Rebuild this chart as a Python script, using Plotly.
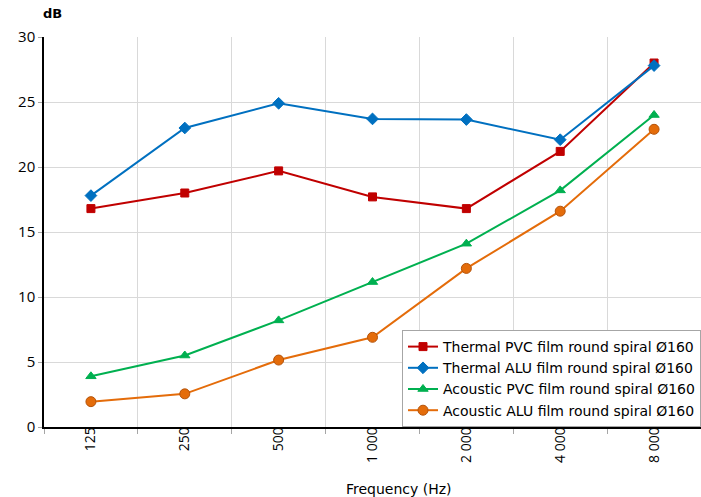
import plotly.graph_objects as go

# Octave-band centre frequencies (Hz) and insertion loss (dB) per duct type
frequencies = ["125", "250", "500", "1 000", "2 000", "4 000", "8 000"]
thermal_pvc = [16.8, 18.0, 19.7, 17.7, 16.8, 21.2, 28.0]
thermal_alu = [17.8, 23.0, 24.9, 23.7, 23.65, 22.1, 27.8]
acoustic_pvc = [3.9, 5.5, 8.2, 11.15, 14.1, 18.2, 24.0]
acoustic_alu = [1.95, 2.55, 5.15, 6.9, 12.2, 16.6, 22.9]

series_names = [
    "Thermal PVC film round spiral Ø160",
    "Thermal ALU film round spiral Ø160",
    "Acoustic PVC film round spiral Ø160",
    "Acoustic ALU film round spiral Ø160",
]
y_ticks = [0, 5, 10, 15, 20, 25, 30]

styles = [
    dict(color="#C00000", symbol="square", size=8, outline="#C00000"),
    dict(color="#0070C0", symbol="diamond", size=9, outline="#0070C0"),
    dict(color="#00B050", symbol="triangle-up", size=9, outline="#00B050"),
    dict(color="#E46C0A", symbol="circle", size=10, outline="#B4530A"),
]

fig = go.Figure()
for name, values, st in zip(series_names,
                            [thermal_pvc, thermal_alu, acoustic_pvc, acoustic_alu],
                            styles):
    fig.add_trace(go.Scatter(
        x=frequencies, y=values, name=name, mode="lines+markers",
        line=dict(color=st["color"], width=2),
        marker=dict(symbol=st["symbol"], size=st["size"], color=st["color"],
                    line=dict(color=st["outline"], width=1)),
    ))

fig.update_layout(
    width=701, height=497,
    margin=dict(l=44, r=0, t=37, b=70, autoexpand=False),
    paper_bgcolor="white", plot_bgcolor="white",
    font=dict(family="DejaVu Sans", size=13, color="#000000"),
    showlegend=True,
    legend=dict(
        x=1.0, xanchor="right", y=0.0, yanchor="bottom",
        bgcolor="white", bordercolor="#A6A6A6", borderwidth=1,
        font=dict(family="DejaVu Sans", size=14, color="#000000"),
        itemwidth=30,
    ),
    xaxis=dict(
        type="category", range=[-0.5, 6.5], tickson="boundaries",
        showgrid=True, gridcolor="#D9D9D9", gridwidth=1,
        showline=True, linecolor="#000000", linewidth=1.5,
        ticks="outside", ticklen=5, tickcolor="#A6A6A6",
        tickangle=-90, automargin=False, ticklabelstandoff=-7,
        tickfont=dict(family="Open Sans", size=14, color="#000000"),
        fixedrange=True,
    ),
    yaxis=dict(
        range=[0, 30], tickvals=y_ticks, automargin=False,
        showgrid=True, gridcolor="#D9D9D9", gridwidth=1,
        showline=True, linecolor="#000000", linewidth=1.5,
        ticks="outside", ticklen=4, tickcolor="#A6A6A6",
        tickfont=dict(family="Open Sans", size=15, color="#000000"),
        zeroline=False,
    ),
    annotations=[
        dict(text="<b>dB</b>", xref="paper", yref="paper", x=0, y=1,
             xanchor="left", yanchor="bottom", yshift=14, xshift=-3,
             showarrow=False, font=dict(family="DejaVu Sans", size=13)),
        dict(text="Frequency (Hz)", xref="paper", yref="paper", x=0.54, y=0,
             xanchor="center", yanchor="top", yshift=-52,
             showarrow=False, font=dict(family="DejaVu Sans", size=14)),
    ],
)

fig.write_html("out.html")
